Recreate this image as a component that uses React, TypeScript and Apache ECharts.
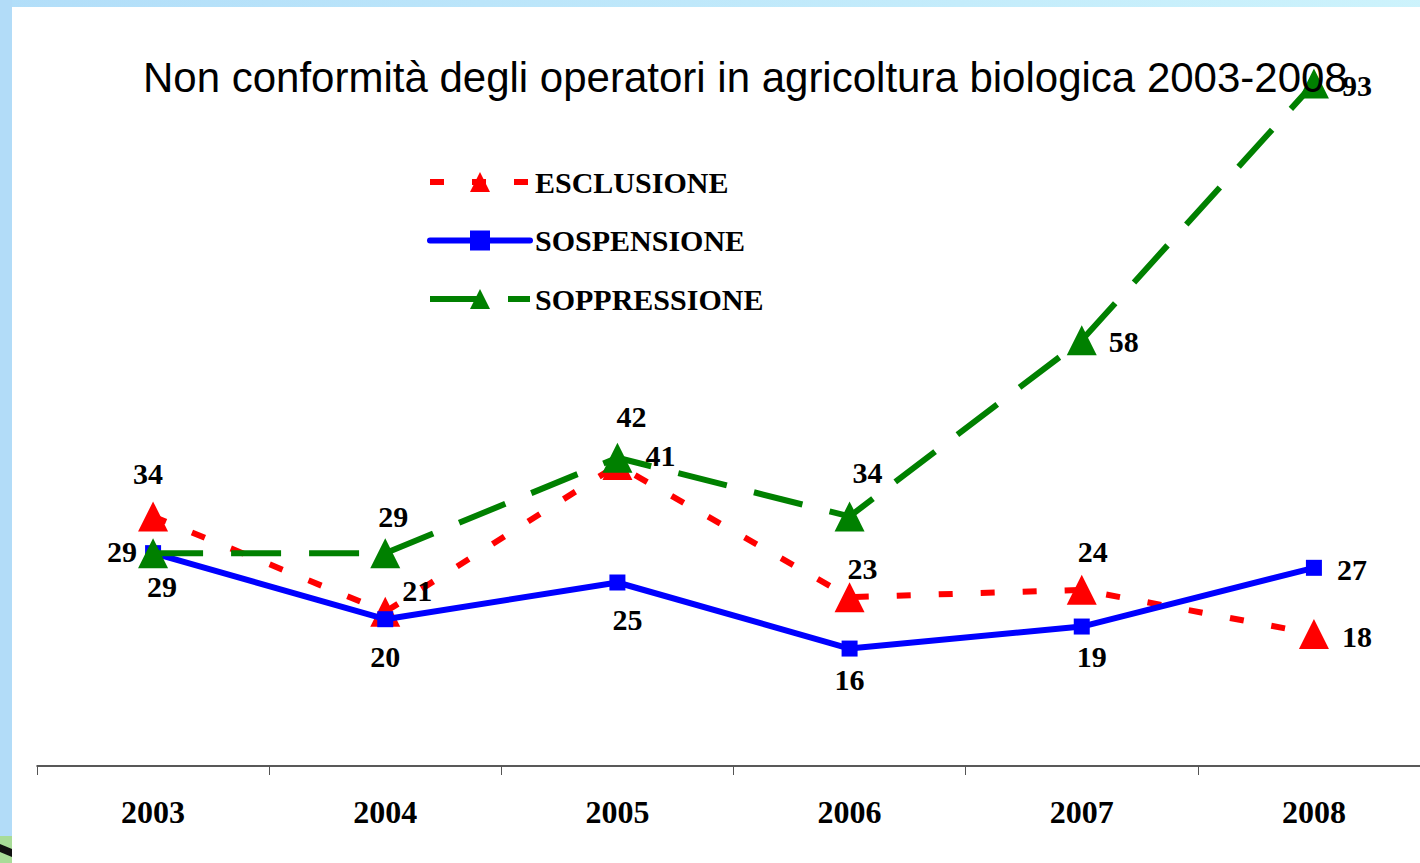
import React, { useEffect, useRef } from "react";
import * as echarts from "echarts";

const years = ["2003", "2004", "2005", "2006", "2007", "2008"];
const esclusione = [34, 21, 41, 23, 24, 18];
const sospensione = [29, 20, 25, 16, 19, 27];
const soppressione = [29, 29, 42, 34, 58, 93];

const seriesNames = ["ESCLUSIONE", "SOSPENSIONE", "SOPPRESSIONE"];
const titleText = "Non conformità degli operatori in agricoltura biologica 2003-2008";

// label offsets (style only)
const exclOffsets = [[-5, -43], [32, -21], [43, -10], [13, -29], [11, -38], [43, 3]];
const sospOffsets = [[-31, -2], [0, 37], [10, 37], [0, 31], [10, 30], [38, 2]];
const soppOffsets = [[9, 33], [8, -37], [14, -41], [18, -44], [42, 1], [43, 2]];

const SERIF = "'Liberation Serif', 'Times New Roman', serif";
const SANS = "'Liberation Sans', Arial, sans-serif";

function withLabels(values: number[], offsets: number[][]) {
  return values.map((v, i) => ({
    value: v,
    label: { offset: offsets[i] },
  }));
}

const labelBase = {
  show: true,
  position: "inside",
  color: "#000",
  fontFamily: SERIF,
  fontWeight: "bold",
  fontSize: 30,
};

export default function App() {
  const ref = useRef<HTMLDivElement>(null);
  useEffect(() => {
    if (!ref.current) return;
    const chart = echarts.init(ref.current, null, { renderer: "svg" });
    chart.setOption({
      animation: false,
      backgroundColor: "#ffffff",
      title: {
        text: titleText,
        left: 143,
        top: 56,
        padding: 0,
        textStyle: {
          fontFamily: SANS,
          fontWeight: "normal",
          fontSize: 42,
          color: "#000",
        },
      },
      graphic: [
        {
          type: "rect",
          shape: { x: 0, y: 0, width: 1440, height: 7 },
          style: {
            fill: new echarts.graphic.LinearGradient(0, 0, 1, 0, [
              { offset: 0, color: "#b2def9" },
              { offset: 1, color: "#cdf3fc" },
            ]),
          },
          silent: true,
        },
        {
          type: "rect",
          shape: { x: 0, y: 0, width: 12, height: 863 },
          style: { fill: "#b2dcf8" },
          silent: true,
        },
        {
          type: "rect",
          shape: { x: 0, y: 836, width: 12, height: 27 },
          style: { fill: "#a8dc98" },
          silent: true,
        },
        {
          type: "polygon",
          shape: { points: [[0, 844], [12, 849], [12, 857], [0, 852]] },
          style: { fill: "#111" },
          silent: true,
        },
      ],
      legend: {
        orient: "vertical",
        left: 427,
        top: 167,
        padding: 0,
        itemWidth: 100,
        itemHeight: 25,
        itemGap: 28.5,
        data: seriesNames,
        lineStyle: { width: 6 },
        textStyle: {
          fontFamily: SERIF,
          fontWeight: "bold",
          fontSize: 30,
          lineHeight: 30,
          color: "#000",
        },
      },
      grid: { left: 37, right: 10, top: 32, bottom: 97 },
      xAxis: {
        type: "category",
        data: years,
        boundaryGap: true,
        axisLine: { show: true, lineStyle: { color: "#222", width: 1.5 } },
        axisTick: { show: true, length: 9, lineStyle: { color: "#555", width: 1 } },
        axisLabel: {
          margin: 30,
          color: "#000",
          fontFamily: SERIF,
          fontWeight: "bold",
          fontSize: 32,
        },
        splitLine: { show: false },
      },
      yAxis: {
        type: "value",
        min: 0,
        max: 100,
        show: false,
        splitLine: { show: false },
      },
      series: [
        {
          name: seriesNames[0],
          type: "line",
          data: withLabels(esclusione, exclOffsets),
          symbol: "triangle",
          symbolSize: [30, 30],
          color: "#ff0000",
          itemStyle: { color: "#ff0000" },
          lineStyle: { color: "#ff0000", width: 6, type: [14, 28] },
          label: labelBase,
          z: 2,
        },
        {
          name: seriesNames[1],
          type: "line",
          data: withLabels(sospensione, sospOffsets),
          symbol: "rect",
          symbolSize: 16,
          color: "#0000ff",
          itemStyle: { color: "#0000ff" },
          lineStyle: { color: "#0000ff", width: 6, cap: "round" },
          label: labelBase,
          z: 3,
        },
        {
          name: seriesNames[2],
          type: "line",
          data: withLabels(soppressione, soppOffsets),
          symbol: "triangle",
          symbolSize: [30, 30],
          color: "#008000",
          itemStyle: { color: "#008000" },
          lineStyle: { color: "#008000", width: 6, type: [50, 28] },
          label: labelBase,
          z: 4,
        },
      ],
    });
    return () => chart.dispose();
  }, []);
  return (
    <div
      style={{
        position: "absolute",
        left: 0,
        top: 0,
        width: 1420,
        height: 863,
        overflow: "hidden",
      }}
    >
      <div ref={ref} style={{ width: 1440, height: 863 }} />
    </div>
  );
}
